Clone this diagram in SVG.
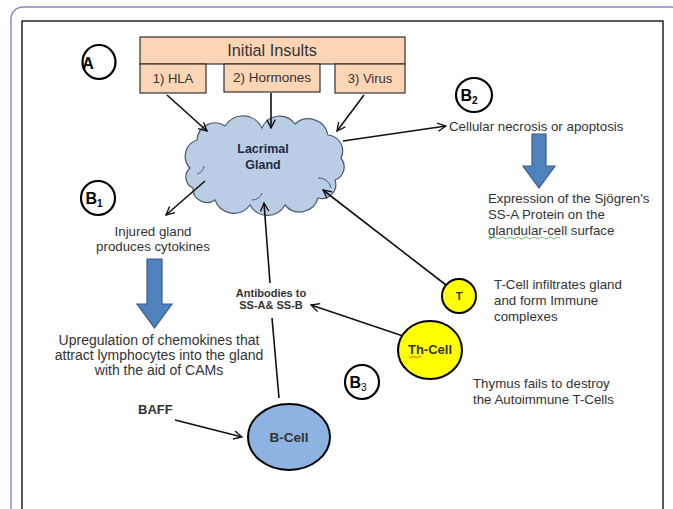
<svg xmlns="http://www.w3.org/2000/svg" width="673" height="509" viewBox="0 0 673 509">
<defs>
<marker id="arr" viewBox="0 0 12 12" refX="11" refY="6" markerWidth="10" markerHeight="10" markerUnits="userSpaceOnUse" orient="auto">
<path d="M1,1 L11,6 L1,11" fill="none" stroke="#111" stroke-width="1.6"/>
</marker>
<style>
text{font-family:"Liberation Sans",Arial,sans-serif;fill:#333;}
.t{font-size:13.3px;}
.b{font-weight:bold;}
.c{text-anchor:middle;}
.box{fill:#fcd5b5;stroke:#333;stroke-width:1.2;}
.ln{fill:none;stroke:#111;stroke-width:1.6;}
.lbl{fill:#fff;stroke:#000;stroke-width:2.2;}
.blk{fill:#4f81bd;stroke:#385d8a;stroke-width:1.2;}
.yel{fill:#ffff00;stroke:#000;stroke-width:2;}
</style>
</defs>
<rect x="0" y="0" width="673" height="509" fill="#fff"/>
<rect x="11" y="7" width="672" height="530" rx="12" fill="none" stroke="#8a86c4" stroke-width="1.5"/>
<rect x="22" y="21" width="641" height="500" fill="none" stroke="#000" stroke-width="1.3"/>

<g id="labelA">
<ellipse cx="99" cy="62" rx="16.5" ry="17" class="lbl"/>
<text x="88" y="69" class="c b" style="font-size:16px;fill:#000">A</text>
</g>

<g id="insults">
<rect x="140" y="37" width="265" height="27" class="box"/>
<text x="272" y="56" class="c" style="font-size:16.3px">Initial Insults</text>
</g>
<g id="hla">
<rect x="140" y="64" width="66" height="29" class="box"/>
<text x="173" y="83" class="c" style="font-size:13px">1) HLA</text>
</g>
<g id="hormones">
<rect x="224" y="64" width="96" height="28" class="box"/>
<text x="272" y="82" class="c" style="font-size:13.5px">2) Hormones</text>
</g>
<g id="virus">
<rect x="335" y="64" width="70" height="29" class="box"/>
<text x="370" y="83" class="c" style="font-size:13px">3) Virus</text>
</g>

<g id="lacrimal">
<path d="M190,168 A17,17 0 0 1 197,140 A18,18 0 0 1 225,126 A21,21 0 0 1 262,128 A19,19 0 0 1 295,124 A20,20 0 0 1 328,135 A16,16 0 0 1 341,158 A14,14 0 0 1 335,180 A14,14 0 0 1 318,198 A19,19 0 0 1 285,205 A20,20 0 0 1 250,205 A20,20 0 0 1 215,200 A14,14 0 0 1 193,188 A12,12 0 0 1 190,168 Z" fill="#b9cde5" stroke="#4a5a6e" stroke-width="1.2"/>
<path d="M318,178 A12,12 0 0 1 331,188 M197,174 A10,10 0 0 0 204,166 M252,200 A10,10 0 0 0 262,193" fill="none" stroke="#4a5a6e" stroke-width="1"/>
<text x="263" y="153" class="c b" style="font-size:12.5px;fill:#1f2a44">Lacrimal</text>
<text x="263" y="169" class="c b" style="font-size:12.5px;fill:#1f2a44">Gland</text>
</g>

<g id="labelB2">
<ellipse cx="474" cy="95" rx="18" ry="17" class="lbl"/>
<text x="469" y="101" class="c b" style="font-size:16px;fill:#000">B<tspan dy="3" style="font-size:10px">2</tspan></text>
</g>
<g id="necrosis">
<text x="449" y="131" class="t">Cellular necrosis or apoptosis</text>
</g>
<g id="arrowB2">
<path d="M532,134 H546 V166 H555 L539,188 L523,166 H532 Z" class="blk"/>
</g>
<g id="expression">
<text x="488" y="203" class="t">Expression of the Sjögren's</text>
<text x="488" y="219" class="t">SS-A Protein on the</text>
<text x="488" y="235" class="t">glandular-cell surface</text>
<path d="M488,238 q2,2 4,0 t4,0 t4,0 t4,0 t4,0 t4,0 t4,0 t4,0 t4,0 t4,0 t4,0 t4,0 t4,0 t4,0 t4,0 t4,0 t4,0 t4,0" fill="none" stroke="#4caf50" stroke-width="0.8"/>
</g>

<g id="labelB1">
<ellipse cx="98" cy="198" rx="17" ry="17" class="lbl"/>
<text x="94" y="204" class="c b" style="font-size:16px;fill:#000">B<tspan dy="3" style="font-size:10px">1</tspan></text>
</g>
<g id="injured">
<text x="153" y="236" class="t c">Injured gland</text>
<text x="153" y="251" class="t c">produces cytokines</text>
</g>
<g id="arrowB1">
<path d="M147,259 H162 V304 H172 L154.5,328 L137,304 H147 Z" class="blk"/>
</g>
<g id="upregulation">
<text x="159" y="345" class="c" style="font-size:14px">Upregulation of chemokines that</text>
<text x="159" y="360" class="c" style="font-size:14px">attract lymphocytes into the gland</text>
<text x="159" y="375" class="c" style="font-size:14px">with the aid of CAMs</text>
</g>

<g id="antibodies">
<text x="271" y="297" class="c b" style="font-size:11px">Antibodies to</text>
<text x="271" y="309" class="c b" style="font-size:11px">SS-A&amp; SS-B</text>
</g>

<g id="tcell">
<circle cx="459" cy="296" r="17" class="yel"/>
<text x="459" y="300" class="c b" style="font-size:11px">T</text>
</g>
<g id="tcellText">
<text x="494" y="289" class="t">T-Cell infiltrates gland</text>
<text x="494" y="305" class="t">and form Immune</text>
<text x="494" y="321" class="t">complexes</text>
</g>

<g id="thcell">
<ellipse cx="430" cy="350" rx="32" ry="29" class="yel"/>
<text x="430" y="354" class="c b" style="font-size:13px">Th-Cell</text>
<path d="M409,357 q1.5,1.5 3,0 t3,0 t3,0 t3,0" fill="none" stroke="#e53935" stroke-width="0.8"/>
</g>
<g id="labelB3">
<ellipse cx="362" cy="382" rx="17" ry="17" class="lbl"/>
<text x="358" y="388" class="c b" style="font-size:16px;fill:#000">B<tspan dy="3" style="font-size:10px;font-weight:normal">3</tspan></text>
</g>
<g id="thymus">
<text x="473" y="388" class="t">Thymus fails to destroy</text>
<text x="473" y="404" class="t">the Autoimmune T-Cells</text>
</g>

<g id="baff">
<text x="138" y="414" class="b" style="font-size:13px">BAFF</text>
</g>
<g id="bcell">
<ellipse cx="289" cy="437" rx="41" ry="33" fill="#8db3e2" stroke="#000" stroke-width="2"/>
<text x="289" y="442" class="c b" style="font-size:13.5px">B-Cell</text>
</g>

<g id="connectors">
<line x1="167" y1="95" x2="207" y2="131" class="ln" marker-end="url(#arr)"/>
<line x1="271" y1="93" x2="271" y2="128" class="ln" marker-end="url(#arr)"/>
<line x1="364" y1="95" x2="337" y2="131" class="ln" marker-end="url(#arr)"/>
<line x1="343" y1="141" x2="446" y2="126" class="ln" marker-end="url(#arr)"/>
<line x1="205" y1="181" x2="166" y2="215" class="ln" marker-end="url(#arr)"/>
<line x1="446" y1="285" x2="323" y2="190" class="ln" marker-end="url(#arr)"/>
<line x1="403" y1="336" x2="311" y2="305" class="ln" marker-end="url(#arr)"/>
<line x1="279" y1="398" x2="272" y2="318" class="ln"/>
<line x1="270" y1="283" x2="264" y2="203" class="ln" marker-end="url(#arr)"/>
<line x1="175" y1="420" x2="242" y2="437" class="ln" marker-end="url(#arr)"/>
</g>
</svg>
